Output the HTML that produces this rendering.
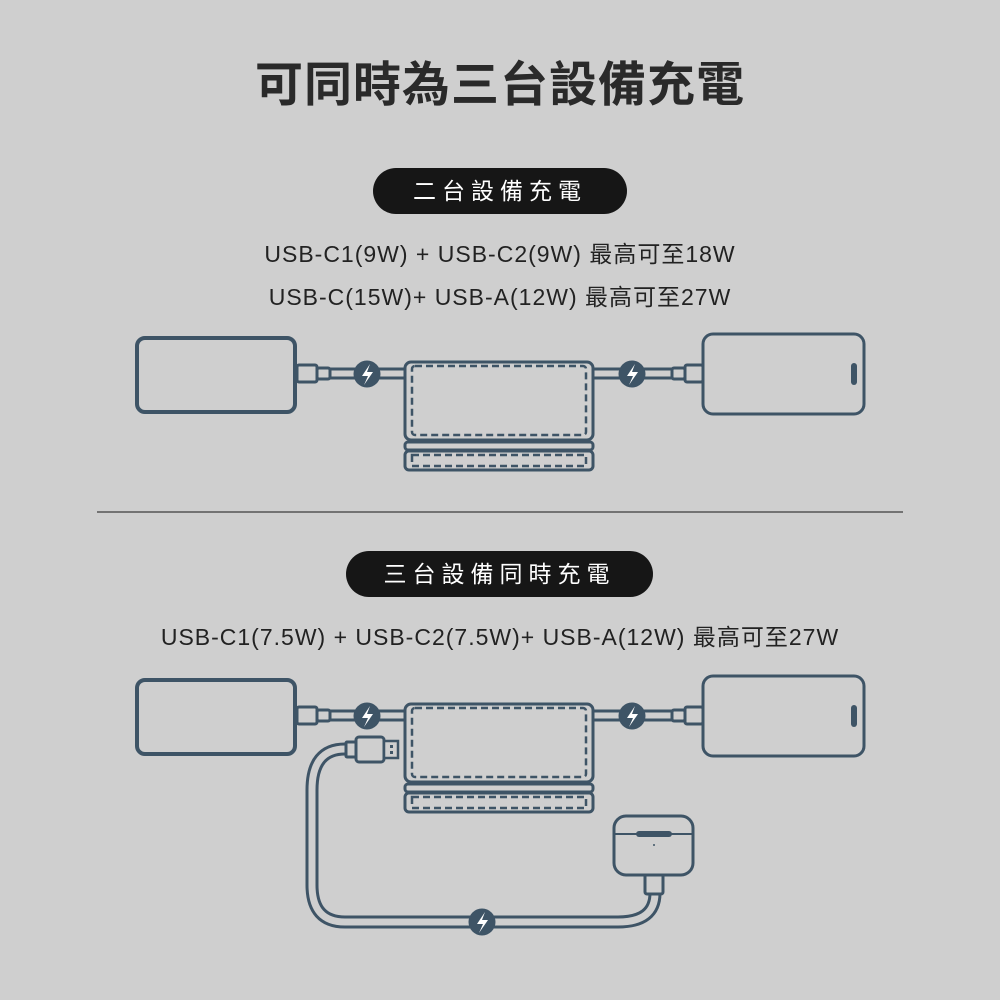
<!DOCTYPE html>
<html><head><meta charset="utf-8"><style>
body{margin:0;width:1000px;height:1000px;background:#cfcfcf;overflow:hidden;position:relative;font-family:"Liberation Sans","Noto Sans CJK TC",sans-serif;color:#222}
.t{position:absolute;left:0;width:1000px;text-align:center}
.pill{position:absolute;background:#161616;color:#fff;border-radius:24px;text-align:center;font-size:23px;letter-spacing:6px}
svg{position:absolute;left:0;top:0}
</style></head><body>
<div class="t" style="top:45px;font-size:48px;font-weight:bold;letter-spacing:1px;color:#2a2a2a">可同時為三台設備充電</div>
<div class="pill" style="left:373px;top:168px;width:254px;height:46px;line-height:46px">二台設備充電</div>
<div class="t" style="top:235px;font-size:23px;letter-spacing:1px">USB-C1(9W) + USB-C2(9W) 最高可至18W</div>
<div class="t" style="top:278px;font-size:23px;letter-spacing:1px">USB-C(15W)+ USB-A(12W) 最高可至27W</div>
<div class="pill" style="left:346px;top:551px;width:307px;height:46px;line-height:46px">三台設備同時充電</div>
<div class="t" style="top:618px;font-size:23px;letter-spacing:1px">USB-C1(7.5W) + USB-C2(7.5W)+ USB-A(12W) 最高可至27W</div>
<svg width="1000" height="1000" viewBox="0 0 1000 1000">
<defs>
<g id="row" fill="none" stroke="#3e5466" stroke-width="3">
  <rect x="137" y="338" width="158" height="74" rx="8" stroke-width="4"/>
  <rect x="297" y="365" width="20" height="17" rx="2"/>
  <rect x="317" y="368" width="13" height="11" rx="2"/>
  <rect x="330" y="369" width="75" height="9"/>
  <circle cx="367" cy="374" r="13.5" fill="#3e5466" stroke="none"/>
  <path d="M370 364 L362 376 L368 376 L364 385 L373 372 L367 372 Z" fill="#fff" stroke="none"/>
  <rect x="405" y="362" width="188" height="78" rx="6"/>
  <rect x="412" y="366" width="174" height="69" rx="3" stroke-dasharray="7 4" stroke-width="2.5"/>
  <rect x="405" y="442" width="188" height="8" rx="3"/>
  <rect x="405" y="451" width="188" height="19" rx="4"/>
  <rect x="412" y="455" width="174" height="11" stroke-dasharray="7 4" stroke-width="2.5"/>
  <rect x="593" y="369" width="79" height="9"/>
  <circle cx="632" cy="374" r="13.5" fill="#3e5466" stroke="none"/>
  <path d="M635 364 L627 376 L633 376 L629 385 L638 372 L632 372 Z" fill="#fff" stroke="none"/>
  <rect x="672" y="368" width="13" height="11" rx="2" fill="#cfcfcf"/>
  <rect x="685" y="365" width="18" height="17" rx="2" fill="#cfcfcf"/>
  <rect x="703" y="334" width="161" height="80" rx="10"/>
  <rect x="851" y="363" width="6" height="22" rx="3" fill="#3e5466" stroke="none"/>
</g>
</defs>
<use href="#row"/>
<use href="#row" transform="translate(0,342)"/>
<line x1="97" y1="512" x2="903" y2="512" stroke="#555" stroke-width="1.5"/>
<g fill="none" stroke="#3e5466">
  <path d="M350 749 L345 749 Q312 749 312 790 L312 885 Q312 922 345 922 L618 922 Q655 922 655 893" stroke-width="13"/>
  <path d="M350 749 L345 749 Q312 749 312 790 L312 885 Q312 922 345 922 L618 922 Q655 922 655 893" stroke="#cfcfcf" stroke-width="7"/>
  <rect x="346" y="742" width="10" height="15" rx="1" fill="#cfcfcf" stroke-width="3"/>
  <rect x="356" y="737" width="28" height="25" rx="3" fill="#cfcfcf" stroke-width="3"/>
  <rect x="384" y="741" width="14" height="17" fill="#cfcfcf" stroke-width="2.5"/>
  <rect x="390" y="745" width="3" height="3" fill="#3e5466" stroke="none"/>
  <rect x="390" y="751" width="3" height="3" fill="#3e5466" stroke="none"/>
  <rect x="645" y="873" width="18" height="21" rx="2" fill="#cfcfcf" stroke-width="3"/>
  <rect x="614" y="816" width="79" height="59" rx="12" fill="#cfcfcf" stroke-width="3"/>
  <path d="M614 834 L693 834" stroke-width="2"/>
  <rect x="636" y="831" width="36" height="6" rx="3" fill="#3e5466" stroke="none"/>
  <circle cx="654" cy="845" r="1" fill="#3e5466" stroke="none"/>
  <circle cx="482" cy="922" r="13.5" fill="#3e5466" stroke="none"/>
  <path d="M485 912 L477 924 L483 924 L479 933 L488 920 L482 920 Z" fill="#fff" stroke="none"/>
</g>
</svg>
</body></html>
